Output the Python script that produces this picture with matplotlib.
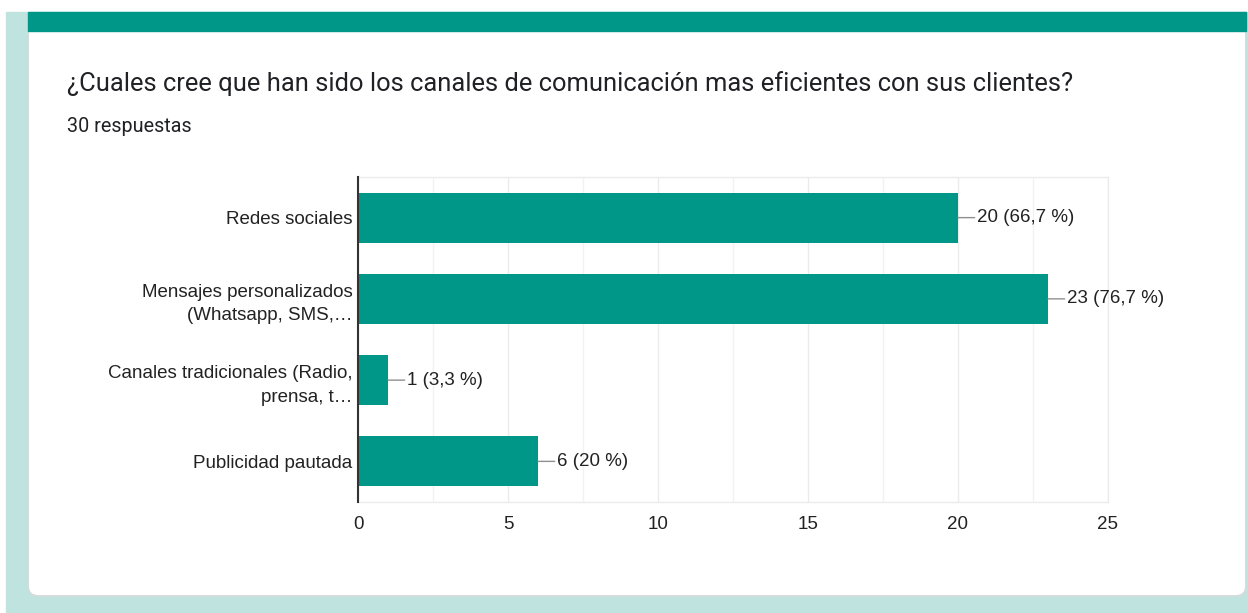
import matplotlib
matplotlib.use('Agg')
import matplotlib.pyplot as plt
from matplotlib.patches import FancyBboxPatch, Rectangle
from matplotlib.transforms import IdentityTransform
from matplotlib.ticker import MultipleLocator

# data
categories = ['Redes sociales',
              'Mensajes personalizados\n(Whatsapp, SMS,…',
              'Canales tradicionales (Radio,\nprensa, t…',
              'Publicidad pautada']
counts = [20, 23, 1, 6]
pct_labels = ['66,7 %', '76,7 %', '3,3 %', '20 %']
xticks = [0, 5, 10, 15, 20, 25]

title = '¿Cuales cree que han sido los canales de comunicación mas eficientes con sus clientes?'
subtitle = '30 respuestas'

teal = '#009688'
light_teal = '#bfe4df'
W, H = 1248, 613

fig = plt.figure(figsize=(W / 100, H / 100), dpi=100)
fig.patch.set_facecolor('white')

# page background / card (pixel coords, y measured from top)
def px(x0, y0, x1, y1):
    return x0, H - y1, x1 - x0, y1 - y0

x, y, w, h = px(6, 12, W, H)
fig.patches.append(Rectangle((x, y), w, h, color=light_teal, transform=IdentityTransform(), zorder=0))
x, y, w, h = px(28, 12, 1246, 597)
fig.patches.append(FancyBboxPatch((x, y), w, h, boxstyle='round,pad=0,rounding_size=9',
                                  fc='#d4dcdb', ec='none', transform=IdentityTransform(), zorder=1))
x, y, w, h = px(29, 12, 1245, 595)
fig.patches.append(FancyBboxPatch((x, y), w, h, boxstyle='round,pad=0,rounding_size=9',
                                  fc='white', ec='none', transform=IdentityTransform(), zorder=2))
x, y, w, h = px(28, 12, 1246, 31)
fig.patches.append(Rectangle((x, y), w, h, color=teal, transform=IdentityTransform(), zorder=3))

fig.text(67 / W, 1 - 84 / H, title, family='Roboto', fontsize=18.4, color='#202124',
         ha='left', va='center', zorder=5)
fig.text(67 / W, 1 - 127 / H, subtitle, family='Roboto', fontsize=14.2, color='#202124',
         ha='left', va='center', zorder=5)

# chart
ax = fig.add_axes([358 / W, 1 - 502 / H, (1108 - 358) / W, (502 - 177) / H])
ax.set_zorder(10)
ax.set_facecolor('none')
ypos = list(range(len(categories)))
ax.barh(ypos, counts, height=0.615, color=teal, zorder=3)

for yi, c, p in zip(ypos, counts, pct_labels):
    ax.annotate(f'{c} ({p})', xy=(c, yi), xytext=(14, 0), textcoords='offset points',
                ha='left', va='center', fontsize=13.5, color='#222222', family='Liberation Sans',
                arrowprops=dict(arrowstyle='-', color='#8f8f8f', lw=1, shrinkA=0, shrinkB=0),
                zorder=4)

ax.set_xlim(0, 25)
ax.set_ylim(len(categories) - 0.5, -0.5)
ax.set_xticks(xticks)
ax.xaxis.set_minor_locator(MultipleLocator(2.5))
ax.set_yticks(ypos)
ax.set_yticklabels(categories, linespacing=1.5)
ax.grid(axis='x', which='major', color='#ebebeb', lw=1, zorder=0)
ax.grid(axis='x', which='minor', color='#f2f2f2', lw=1, zorder=0)
ax.set_axisbelow(True)
ax.tick_params(axis='both', which='both', length=0)
ax.tick_params(axis='y', pad=4)
ax.tick_params(axis='x', pad=10)
for lab in ax.get_xticklabels() + ax.get_yticklabels():
    lab.set_family('Liberation Sans')
    lab.set_fontsize(13.5)
    lab.set_color('#222222')

for s in ['top', 'right', 'bottom']:
    ax.spines[s].set_color('#ebebeb')
    ax.spines[s].set_linewidth(1)
ax.spines['left'].set_color('#333333')
ax.spines['left'].set_linewidth(1.5)
ax.spines['left'].set_zorder(5)

fig.savefig('out.png', dpi=100)
